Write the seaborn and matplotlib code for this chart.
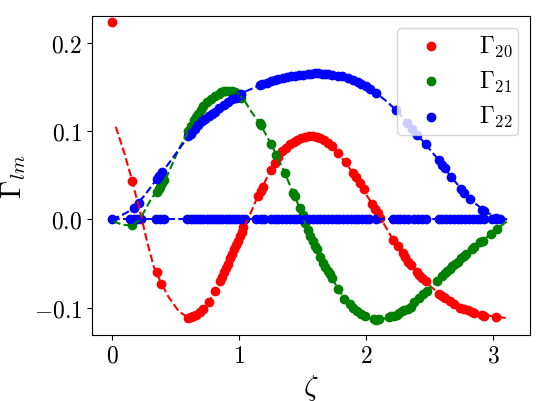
import matplotlib
matplotlib.use("Agg")
import matplotlib.pyplot as plt
import seaborn as sns
import pandas as pd

# ---------------- data ----------------
# theory curves (dashed)
g20_line_x = [0.03, 0.10, 0.157, 0.236, 0.276, 0.33, 0.39, 0.446, 0.525, 0.58, 0.62, 0.70, 0.76, 0.81, 0.86,
              0.92, 0.97, 1.02, 1.07, 1.15, 1.25, 1.35, 1.45, 1.55, 1.62, 1.70, 1.78, 1.85, 1.91, 1.98,
              2.05, 2.12, 2.20, 2.30, 2.40, 2.50, 2.60, 2.70, 2.80, 2.90, 3.00, 3.126]
g20_line_y = [0.105, 0.074, 0.045, 0.000, -0.025, -0.054, -0.073, -0.088, -0.104, -0.1095, -0.111, -0.105,
              -0.094, -0.081, -0.067, -0.047, -0.029, -0.012, 0.000, 0.027, 0.056, 0.079, 0.090, 0.094,
              0.093, 0.087, 0.075, 0.062, 0.050, 0.033, 0.017, 0.000, -0.020, -0.043, -0.060, -0.075,
              -0.087, -0.096, -0.103, -0.107, -0.110, -0.112]

g21_line_x = [0.01, 0.08, 0.157, 0.22, 0.30, 0.38, 0.433, 0.525, 0.60, 0.68, 0.75, 0.81, 0.88, 0.945,
              1.0, 1.05, 1.097, 1.163, 1.254, 1.36, 1.425, 1.478, 1.52, 1.596, 1.66, 1.714, 1.78, 1.83,
              1.90, 1.96, 2.02, 2.08, 2.16, 2.24, 2.35, 2.45, 2.56, 2.66, 2.77, 2.83, 2.92, 3.03, 3.11]
g21_line_y = [-0.002, -0.006, -0.007, 0.000, 0.021, 0.038, 0.049, 0.079, 0.100, 0.120, 0.134, 0.141,
              0.145, 0.145, 0.142, 0.133, 0.122, 0.109, 0.085, 0.053, 0.030, 0.013, -0.004, -0.030,
              -0.049, -0.062, -0.079, -0.090, -0.100, -0.1076, -0.112, -0.114, -0.112, -0.108, -0.099,
              -0.085, -0.070, -0.056, -0.042, -0.034, -0.024, -0.011, -0.002]

g22_line_x = [0.0, 0.08, 0.157, 0.25, 0.35, 0.45, 0.55, 0.65, 0.75, 0.85, 0.95, 1.05, 1.15, 1.25, 1.35,
              1.45, 1.55, 1.62, 1.70, 1.80, 1.90, 2.0, 2.08, 2.16, 2.25, 2.35, 2.45, 2.55, 2.65, 2.75,
              2.85, 2.95, 3.03, 3.11]
g22_line_y = [0.0, 0.005, 0.011, 0.026, 0.045, 0.064, 0.084, 0.102, 0.116, 0.127, 0.136, 0.145, 0.151,
              0.157, 0.160, 0.163, 0.165, 0.166, 0.165, 0.162, 0.158, 0.151, 0.143, 0.134, 0.122, 0.105,
              0.088, 0.071, 0.052, 0.034, 0.019, 0.008, 0.002, 0.0]

g22_zero_line_x = [0.0, 3.11]
g22_zero_line_y = [0.0, 0.0]

# measured points (dots)
g20_x = [0.0, 0.157, 0.354, 0.386, 0.60, 0.62, 0.64, 0.66, 0.69, 0.72, 0.76, 0.81, 0.85, 0.87, 0.885,
         0.90, 0.915, 0.93, 0.945, 0.96, 0.975, 0.99, 1.005, 1.02, 1.035, 1.15, 1.17, 1.19, 1.25, 1.28,
         1.31, 1.34, 1.37, 1.40, 1.43, 1.46, 1.49, 1.52, 1.55, 1.58, 1.61, 1.64, 1.67, 1.70, 1.73, 1.78,
         1.84, 1.90, 1.92, 1.95, 1.98, 2.05, 2.07, 2.09, 2.11, 2.21, 2.25, 2.29, 2.31, 2.33, 2.35, 2.40,
         2.42, 2.44, 2.47, 2.57, 2.60, 2.62, 2.66, 2.69, 2.74, 2.77, 2.80, 2.83, 2.85, 2.91, 2.93, 3.02]
g20_y = [0.224, 0.043, -0.060, -0.073, -0.112, -0.111, -0.109, -0.108, -0.105, -0.102, -0.094, -0.081,
         -0.070, -0.065, -0.060, -0.055, -0.050, -0.044, -0.039, -0.034, -0.029, -0.024, -0.019, -0.014,
         -0.009, 0.027, 0.032, 0.037, 0.056, 0.064, 0.071, 0.077, 0.081, 0.085, 0.088, 0.090, 0.092,
         0.093, 0.094, 0.094, 0.093, 0.092, 0.090, 0.087, 0.083, 0.075, 0.065, 0.053, 0.048, 0.041,
         0.034, 0.017, 0.012, 0.007, 0.002, -0.023, -0.030, -0.038, -0.043, -0.048, -0.052, -0.060,
         -0.063, -0.066, -0.070, -0.084, -0.087, -0.089, -0.093, -0.096, -0.100, -0.101, -0.103,
         -0.105, -0.106, -0.108, -0.109, -0.111]

g21_x = [0.157, 0.354, 0.37, 0.38, 0.395, 0.41, 0.60, 0.62, 0.643, 0.66, 0.68, 0.70, 0.72, 0.75, 0.78,
         0.81, 0.84, 0.86, 0.88, 0.90, 0.92, 0.945, 0.97, 0.998, 1.018, 1.163, 1.175, 1.254, 1.294, 1.36,
         1.425, 1.44, 1.478, 1.50, 1.52, 1.54, 1.557, 1.58, 1.596, 1.61, 1.64, 1.66, 1.68, 1.70, 1.714,
         1.73, 1.78, 1.83, 1.87, 1.90, 1.93, 1.96, 1.99, 2.06, 2.08, 2.10, 2.18, 2.20, 2.22, 2.24, 2.26,
         2.28, 2.30, 2.33, 2.35, 2.38, 2.42, 2.45, 2.48, 2.56, 2.60, 2.62, 2.64, 2.66, 2.68, 2.70, 2.72,
         2.75, 2.77, 2.79, 2.83, 2.85, 2.90, 2.92, 2.98, 3.03]
g21_y = [-0.006, 0.031, 0.034, 0.037, 0.041, 0.045, 0.100, 0.106, 0.113, 0.116, 0.120, 0.124, 0.128,
         0.133, 0.137, 0.140, 0.142, 0.144, 0.145, 0.145, 0.145, 0.145, 0.144, 0.142, 0.138, 0.109,
         0.107, 0.085, 0.073, 0.053, 0.030, 0.026, 0.013, 0.005, -0.004, -0.012, -0.019, -0.025, -0.030,
         -0.034, -0.043, -0.049, -0.054, -0.058, -0.062, -0.066, -0.079, -0.090, -0.096, -0.100, -0.104,
         -0.107, -0.110, -0.113, -0.114, -0.113, -0.111, -0.110, -0.109, -0.108, -0.106, -0.104, -0.103,
         -0.101, -0.099, -0.094, -0.089, -0.085, -0.081, -0.070, -0.064, -0.061, -0.059, -0.056, -0.053,
         -0.051, -0.048, -0.044, -0.042, -0.039, -0.034, -0.031, -0.026, -0.024, -0.016, -0.011]

g22_x = [0.17, 0.21, 0.354, 0.368, 0.394, 0.60, 0.62, 0.64, 0.656, 0.68, 0.71, 0.735, 0.76, 0.785, 0.81,
         0.845, 0.88, 0.91, 0.945, 0.975, 1.01, 1.018, 1.163, 1.18, 1.22, 1.254, 1.28, 1.31, 1.346, 1.38,
         1.41, 1.438, 1.47, 1.50, 1.543, 1.57, 1.60, 1.62, 1.65, 1.68, 1.70, 1.73, 1.78, 1.81, 1.86, 1.90,
         1.937, 1.96, 2.0, 2.03, 2.08, 2.234, 2.325, 2.36, 2.40, 2.47, 2.57, 2.60, 2.62, 2.667, 2.746,
         2.77, 2.82, 2.916, 2.93, 3.02,
         0.0, 0.14, 0.17, 0.20, 0.23, 0.35, 0.38, 0.41, 0.59, 0.62, 0.645, 0.67, 0.695, 0.72, 0.745, 0.77,
         0.795, 0.82, 0.845, 0.87, 0.895, 0.92, 0.945, 0.97, 0.995, 1.02, 1.05, 1.13, 1.17, 1.20, 1.25,
         1.28, 1.31, 1.34, 1.37, 1.40, 1.43, 1.46, 1.49, 1.52, 1.55, 1.58, 1.61, 1.64, 1.67, 1.70, 1.73,
         1.76, 1.79, 1.82, 1.85, 1.88, 1.91, 1.94, 1.97, 2.0, 2.02, 2.08, 2.21, 2.24, 2.27, 2.30, 2.33,
         2.38, 2.41, 2.44, 2.47, 2.57, 2.60, 2.63, 2.66, 2.69, 2.72, 2.75, 2.78, 2.81, 2.84, 2.87, 2.90,
         2.93, 2.99, 3.02, 3.05]
g22_y = [0.013, 0.019, 0.046, 0.049, 0.054, 0.094, 0.097, 0.101, 0.103, 0.107, 0.111, 0.114, 0.117,
         0.120, 0.122, 0.126, 0.130, 0.133, 0.136, 0.138, 0.141, 0.142, 0.152, 0.153, 0.155, 0.157,
         0.158, 0.159, 0.160, 0.161, 0.162, 0.163, 0.164, 0.164, 0.165, 0.165, 0.166, 0.166, 0.165,
         0.165, 0.165, 0.164, 0.163, 0.162, 0.160, 0.158, 0.156, 0.154, 0.151, 0.148, 0.143, 0.124,
         0.109, 0.103, 0.096, 0.085, 0.067, 0.062, 0.058, 0.048, 0.034, 0.030, 0.023, 0.011, 0.009,
         0.002] + [0.0] * 83

labels = [r"$\Gamma_{20}$", r"$\Gamma_{21}$", r"$\Gamma_{22}$"]
colors = ["red", "green", "blue"]
xtick_vals = [0, 1, 2, 3]
xtick_labels = [r"$0$", r"$1$", r"$2$", r"$3$"]
ytick_vals = [-0.1, 0.0, 0.1, 0.2]
ytick_labels = [r"$-0.1$", r"$0.0$", r"$0.1$", r"$0.2$"]

# ---------------- style ----------------
plt.rcParams["mathtext.fontset"] = "cm"
plt.rcParams["font.family"] = ["serif"]
plt.rcParams["font.serif"] = ["cmr10", "DejaVu Serif"]
plt.rcParams["axes.unicode_minus"] = False

fig = plt.figure(figsize=(5.4, 4.02), dpi=100)
ax = fig.add_axes([92 / 540, 1 - 336 / 402, (530 - 92) / 540, (336 - 17) / 402])

points = [(g20_x, g20_y), (g21_x, g21_y), (g22_x, g22_y)]
lines = [[(g20_line_x, g20_line_y)], [(g21_line_x, g21_line_y)],
         [(g22_line_x, g22_line_y), (g22_zero_line_x, g22_zero_line_y)]]

for (px, py), lns, lab, col in zip(points, lines, labels, colors):
    sns.scatterplot(x=px, y=py, color=col, s=36, linewidth=1, edgecolor=col, label=lab, ax=ax, zorder=2)
    for lx, ly in lns:
        sns.lineplot(x=lx, y=ly, color=col, linestyle="--", lw=1.5, sort=False,
                     estimator=None, legend=False, ax=ax, zorder=3)

ax.set_xlim(-0.157, 3.29)
ax.set_ylim(-0.131, 0.2305)
ax.set_xticks(xtick_vals)
ax.set_xticklabels(xtick_labels, fontsize=17)
ax.set_yticks(ytick_vals)
ax.set_yticklabels(ytick_labels, fontsize=17)
ax.set_xlabel(r"$\zeta$", fontsize=21)
ax.set_ylabel(r"$\Gamma_{lm}$", fontsize=21)

ax.legend(loc="upper right", fontsize=17, borderpad=0.25, labelspacing=0.45,
          handlelength=2.4, handletextpad=0.8)

fig.savefig("out.png", dpi=100)
